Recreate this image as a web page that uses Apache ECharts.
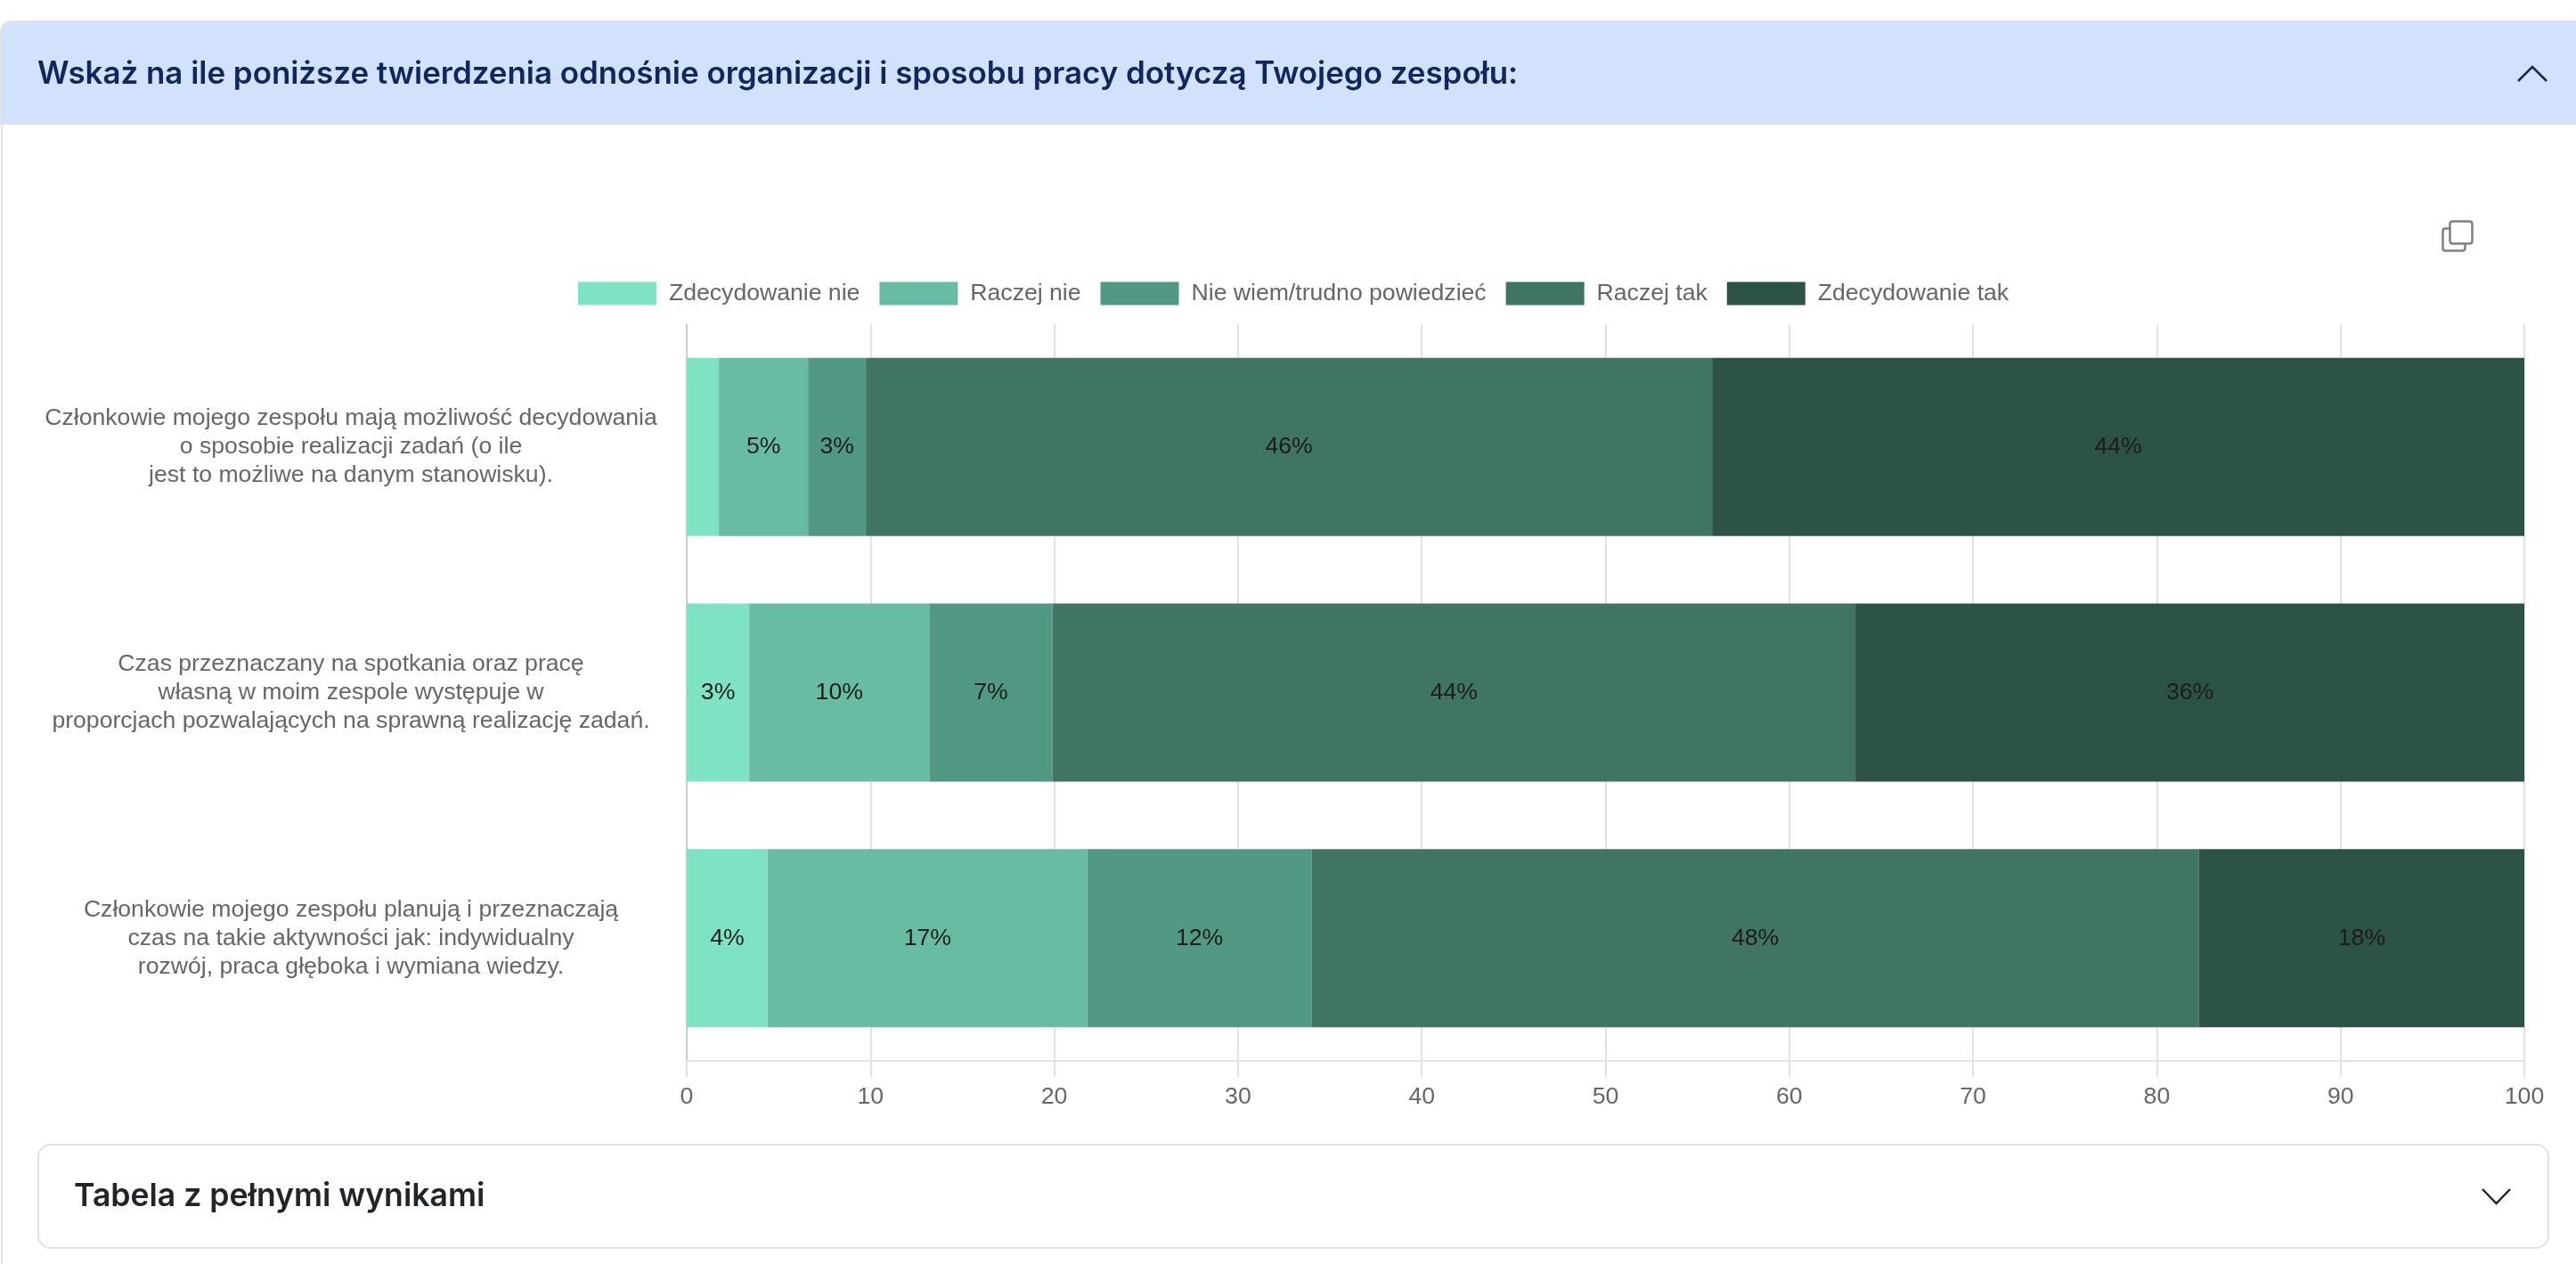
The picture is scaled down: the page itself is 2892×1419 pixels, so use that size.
<!DOCTYPE html>
<html lang="pl">
<head>
<meta charset="utf-8">
<title>Organizacja i sposób pracy zespołu</title>
<script src="https://cdn.jsdelivr.net/npm/echarts@6/dist/echarts.min.js"></script>
<style>
  html, body { margin: 0; padding: 0; background: #fff; }
  #chart { width: 2892px; height: 1419px; }
</style>
</head>
<body>
<div id="chart"></div>
<script>
// Survey answers, as percent of respondents per statement
const questions = [
  'Członkowie mojego zespołu mają możliwość decydowania\no sposobie realizacji zadań (o ile\njest to możliwe na danym stanowisku).',
  'Czas przeznaczany na spotkania oraz pracę\nwłasną w moim zespole występuje w\nproporcjach pozwalających na sprawną realizację zadań.',
  'Członkowie mojego zespołu planują i przeznaczają\nczas na takie aktywności jak: indywidualny\nrozwój, praca głęboka i wymiana wiedzy.'
];
const answerNames = ['Zdecydowanie nie', 'Raczej nie', 'Nie wiem/trudno powiedzieć', 'Raczej tak', 'Zdecydowanie tak'];
const answerColors = ['#7ee3c4', '#68bca3', '#529985', '#407563', '#2c5248'];
const zdecydowanieNie = [1.75, 3.4, 4.4];
const raczejNie = [4.85, 9.8, 17.4];
const nieWiem = [3.15, 6.7, 12.2];
const raczejTak = [46.05, 43.7, 48.3];
const zdecydowanieTak = [44.2, 36.4, 17.7];
const answerValues = [zdecydowanieNie, raczejNie, nieWiem, raczejTak, zdecydowanieTak];

const panelTitle = 'Wskaż na ile poniższe twierdzenia odnośnie organizacji i sposobu pracy dotyczą Twojego zespołu:';
const tableTitle = 'Tabela z pełnymi wynikami';

const sansFont = '"Liberation Sans", Arial, sans-serif';
const headingFont = 'Inter, "Noto Sans", sans-serif';
const smallestLabelled = 2;

const chart = echarts.init(document.getElementById('chart'), null, { renderer: 'canvas' });

chart.setOption({
  animation: false,
  backgroundColor: '#ffffff',
  textStyle: { fontFamily: sansFont },
  grid: { left: 771, top: 364, width: 2063, height: 827, containLabel: false },
  legend: {
    left: 649,
    top: 316,
    padding: 0,
    icon: 'rect',
    itemWidth: 88,
    itemHeight: 26,
    itemGap: 22,
    data: answerNames,
    selectedMode: false,
    textStyle: { color: '#666666', fontSize: 26.6, fontFamily: sansFont, padding: [0, 0, 0, 9] }
  },
  toolbox: {
    left: 2740,
    top: 246,
    padding: 0,
    itemSize: 33,
    iconStyle: { borderColor: '#808080', borderWidth: 2.5, color: 'none' },
    feature: {
      myCopy: {
        show: true,
        title: 'Kopiuj',
        icon: 'path://M12 1H31Q34 1 34 4V23Q34 26 31 26H12Q9 26 9 23V4Q9 1 12 1ZM9 9H4Q1 9 1 12V31Q1 34 4 34H23Q26 34 26 31V26',
        onclick: function () {}
      }
    }
  },
  xAxis: {
    type: 'value',
    min: 0,
    max: 100,
    interval: 10,
    axisLine: { show: true, lineStyle: { color: '#e2e2e2', width: 2 } },
    axisTick: { show: true, length: 18, lineStyle: { color: '#e2e2e2', width: 2 } },
    axisLabel: { color: '#666666', fontSize: 26.6, margin: 27, fontFamily: sansFont },
    splitLine: { show: true, lineStyle: { color: '#e2e2e2', width: 2 } }
  },
  yAxis: {
    type: 'category',
    inverse: true,
    data: questions,
    axisLine: { show: true, lineStyle: { color: '#cccccc', width: 2 } },
    axisTick: { show: false },
    axisLabel: {
      color: '#666666',
      fontSize: 26.6,
      lineHeight: 32,
      align: 'center',
      margin: 377,
      padding: [6, 0, 0, 0],
      fontFamily: sansFont
    }
  },
  series: answerNames.map(function (name, i) {
    return {
      name: name,
      type: 'bar',
      stack: 'odpowiedzi',
      barWidth: 200,
      data: answerValues[i],
      itemStyle: { color: answerColors[i] },
      label: {
        show: true,
        position: 'inside',
        color: '#1c1c1c',
        fontSize: 26.6,
        fontFamily: sansFont,
        formatter: function (p) {
          return p.value < smallestLabelled ? '' : Math.round(p.value) + '%';
        }
      }
    };
  }),
  graphic: {
    elements: [
      // Card outline on the left edge
      { type: 'line', silent: true, z: 1, shape: { x1: 2, y1: 40, x2: 2, y2: 1419 }, style: { stroke: '#e1e4ea', lineWidth: 2 } },
      // Panel header band
      { type: 'rect', silent: true, z: 2, shape: { x: 1, y: 24, width: 2892, height: 115, r: [12, 0, 0, 0] }, style: { fill: '#d3e2fc', stroke: '#e0e3e8', lineWidth: 2 } },
      { type: 'text', silent: true, z: 3, style: { x: 42, y: 84, text: panelTitle, fill: '#10265c', font: '600 34.9px ' + headingFont, textVerticalAlign: 'middle' } },
      { type: 'polyline', silent: true, z: 3, shape: { points: [[2827, 91], [2843, 75], [2859, 91]] }, style: { stroke: '#10265c', lineWidth: 2.5, fill: 'none' } },
      // Collapsed results table
      { type: 'rect', silent: true, z: 1, shape: { x: 43, y: 1285, width: 2818, height: 116, r: 14 }, style: { fill: '#ffffff', stroke: '#dfe3e8', lineWidth: 2 } },
      { type: 'text', silent: true, z: 3, style: { x: 83, y: 1343, text: tableTitle, fill: '#212529', font: '600 35.6px ' + headingFont, textVerticalAlign: 'middle' } },
      { type: 'polyline', silent: true, z: 3, shape: { points: [[2787, 1335], [2802.5, 1351], [2818, 1335]] }, style: { stroke: '#212529', lineWidth: 2.5, fill: 'none' } }
    ]
  }
});
</script>
</body>
</html>
